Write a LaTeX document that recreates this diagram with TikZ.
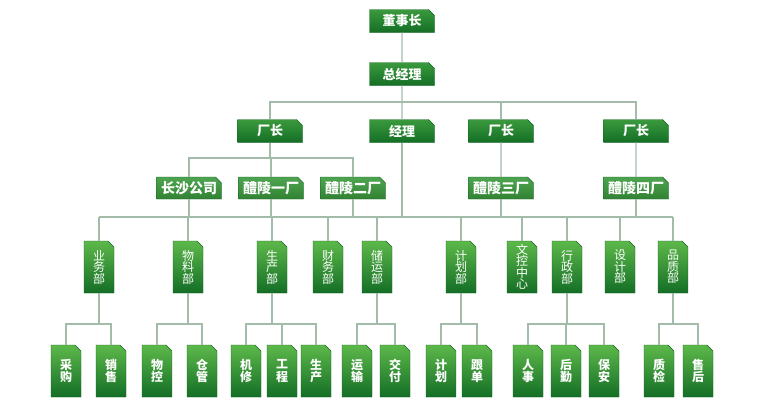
\documentclass[tikz,border=0pt]{standalone}
\usepackage{fontspec}
\newfontfamily\cjk{Noto Sans CJK SC}
\usepackage{tikz}
\usetikzlibrary{shapes.misc}
\definecolor{vertclair}{HTML}{5DB84A}
\definecolor{vertfonce}{HTML}{146E26}
\definecolor{vertmoyen}{HTML}{3A9A3C}
\definecolor{trait}{HTML}{A3BCA9}

\begin{document}
\begin{tikzpicture}[x=1pt,y=-1pt]
      \tikzstyle{every node} = [inner sep = 0pt, text=white];
      \tikzstyle{boite} = [chamfered rectangle, chamfered rectangle corners=north east,
        chamfered rectangle xsep=3pt, chamfered rectangle ysep=3pt,
        draw=vertfonce!90!black, line width=0.4pt];
      \tikzstyle{haut} = [boite, minimum width=65pt, minimum height=23pt,
        top color=vertmoyen, bottom color=vertfonce, font=\cjk\bfseries\fontsize{13}{13}\selectfont];
      \tikzstyle{usine} = [boite, minimum width=65pt, minimum height=22pt,
        top color=vertmoyen!90!white, bottom color=vertmoyen!85!black, font=\cjk\bfseries\fontsize{14}{14}\selectfont];
      \tikzstyle{service} = [boite, minimum width=30pt, minimum height=52pt, align=center,
        top color=vertclair, bottom color=vertfonce, font=\cjk\fontsize{12}{11.5}\selectfont];
      \tikzstyle{poste} = [service, font=\cjk\bfseries\fontsize{12}{12.5}\selectfont];
      \tikzstyle{lien} = [draw=trait, line width=1.3pt];
      \useasboundingbox (0,0) rectangle (770,400);
      \begin{scope}
        % niveaux des barres
        \coordinate (niv1) at (0,102);
        \coordinate (niv2) at (0,158);
        \coordinate (niv3) at (0,217);
        \coordinate (niv4) at (0,324);
        % direction
        \node(pdg) [haut] at (402,21) {董事长};
        \node(dg) [haut] at (402,74) {总经理};
        \node(cz1) [haut] at (270,131) {厂长};
        \node(jl) [haut] at (402,131) {经理};
        \node(cz3) [haut] at (501,131) {厂长};
        \node(cz4) [haut] at (636,131) {厂长};
        % usines
        \foreach \x/\lab/\nom in {189/长沙公司/u1, 271/醴陵一厂/u2, 353/醴陵二厂/u3,
                                  501/醴陵三厂/u4, 636/醴陵四厂/u5}{
          \node(\nom) [usine] at (\x,188) {\lab};
        }
        % services
        \foreach \x/\lab/\nom in {99/业\\务\\部/s1, 188/物\\料\\部/s2, 272/生\\产\\部/s3,
                                  328/财\\务\\部/s4, 377/储\\运\\部/s5, 461/计\\划\\部/s6,
                                  522/文\\控\\中\\心/s7, 567/行\\政\\部/s8, 620/设\\计\\部/s9,
                                  673/品\\质\\部/s10}{
          \node(\nom) [service] at (\x,267) {\lab};
        }
        % postes
        \foreach \x/\lab/\nom in {66/采\\购/p1, 111/销\\售/p2, 157/物\\控/p3, 202/仓\\管/p4,
                                  246/机\\修/p5, 282/工\\程/p6, 316/生\\产/p7, 357/运\\输/p8,
                                  395/交\\付/p9, 441/计\\划/p10, 477/跟\\单/p11, 528/人\\事/p12,
                                  566/后\\勤/p13, 604/保\\安/p14, 659/质\\检/p15, 698/售\\后/p16}{
          \node(\nom) [poste] at (\x,371) {\lab};
        }
        % liens
        \path[lien] (pdg) -- (dg);
        \path[lien] (dg) -- (jl);
        \path[lien] (cz1.north) -- (cz1.north |- niv1) -- (cz4.north |- niv1) -- (cz4.north);
        \path[lien] (cz3.north) -- (cz3.north |- niv1);
        \path[lien] (cz1.south) -- (cz1.south |- niv2);
        \path[lien] (u1.north) -- (u1.north |- niv2) -- (u3.north |- niv2) -- (u3.north);
        \path[lien] (u2.north) -- (u2.north |- niv2);
        \path[lien] (cz3) -- (u4);
        \path[lien] (cz4) -- (u5);
        \foreach \nom in {u1,u2,u3,u4,u5,jl}{
          \path[lien] (\nom.south) -- (\nom.south |- niv3);
        }
        \path[lien] (s1.north |- niv3) -- (s10.north |- niv3);
        \foreach \i in {1,...,10}{
          \path[lien] (s\i.north) -- (s\i.north |- niv3);
        }
        \foreach \s/\a/\b in {1/1/2, 2/3/4, 3/5/7, 5/8/9, 6/10/11, 8/12/14, 10/15/16}{
          \path[lien] (s\s.south) -- (s\s.south |- niv4);
          \path[lien] (p\a.north) -- (p\a.north |- niv4) -- (p\b.north |- niv4) -- (p\b.north);
        }
        \foreach \i in {6,13}{
          \path[lien] (p\i.north) -- (p\i.north |- niv4);
        }
      \end{scope}
    \end{tikzpicture}
\end{document}
